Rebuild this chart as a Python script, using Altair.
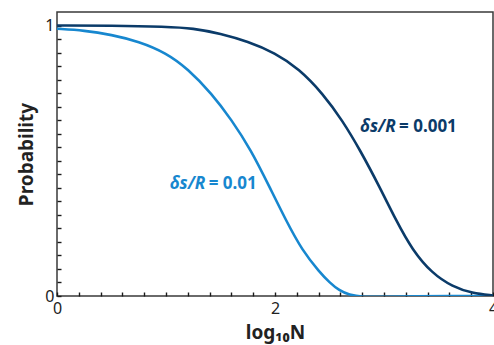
import altair as alt
import pandas as pd

# --- data ---
series_names = ["δs/R = 0.01", "δs/R = 0.001"]
series_colors = ["#1787cf", "#0b3b69"]

x_01 = [0.0, 0.25, 0.5, 0.75, 1.0, 1.2, 1.42, 1.6, 1.78, 1.95, 2.10, 2.25,
        2.41, 2.50, 2.59, 2.68, 2.80, 3.0, 3.3, 3.6, 4.0]
y_01 = [0.988, 0.982, 0.966, 0.941, 0.899, 0.840, 0.748, 0.652, 0.540, 0.403,
        0.280, 0.168, 0.088, 0.050, 0.020, 0.004, -0.004, -0.003, -0.001, 0.0, 0.0]

x_001 = [0.0, 0.5, 1.0, 1.25, 1.5, 1.75, 2.0, 2.22, 2.44, 2.62, 2.78, 2.96,
         3.11, 3.26, 3.44, 3.63, 3.81, 4.0]
y_001 = [1.0, 1.0, 0.996, 0.99, 0.97, 0.941, 0.899, 0.840, 0.748,
         0.648, 0.540, 0.403, 0.280, 0.170, 0.084, 0.034, 0.010, 0.002]

label_x = [1.034, 2.78]
label_y = [0.413, 0.624]
label_lead = ["δs/R", "δs/R"]
label_tail = ["= 0.01", "= 0.001"]

x_ticks = [round(i * 0.2, 1) for i in range(21)]
y_ticks = [round(i * 0.05, 2) for i in range(21)]

# --- tables ---
df = pd.concat([
    pd.DataFrame({"x": x_01, "y": y_01, "series": series_names[0]}),
    pd.DataFrame({"x": x_001, "y": y_001, "series": series_names[1]}),
])
lab = pd.DataFrame({"x": label_x, "y": label_y, "lead": label_lead,
                    "tail": label_tail, "series": series_names})

color = alt.Color("series:N", scale=alt.Scale(domain=series_names, range=series_colors),
                  legend=None)

x_enc = alt.X("x:Q", scale=alt.Scale(domain=[0, 4], nice=False, zero=False),
              axis=alt.Axis(values=x_ticks, tickCount=40, title="log₁₀N", format="~g",
                            labelExpr="datum.value % 2 == 0 ? datum.label : ''",
                            labelFlush=False, labelOverlap=False,
                            tickSize={"expr": "-4"}, labelPadding=8,
                            titlePadding=7))
y_enc = alt.Y("y:Q", scale=alt.Scale(domain=[0, 1.05], nice=False, zero=False),
              axis=alt.Axis(values=y_ticks, tickCount=40, title="Probability", format="~g",
                            labelExpr="datum.value == 0 || datum.value == 1 ? datum.label : ''",
                            labelFlush=False, labelOverlap=False,
                            tickSize={"expr": "-4"}, labelPadding=7,
                            titlePadding=8))

lines = alt.Chart(df).mark_line(strokeWidth=2.6, interpolate="basis", clip=True).encode(
    x=x_enc, y=y_enc, color=color, detail="series:N")

lead = alt.Chart(lab).mark_text(align="left", baseline="middle", fontSize=17,
                                fontWeight="bold", fontStyle="italic").encode(
    x="x:Q", y="y:Q", text="lead:N", color=color)
tail = alt.Chart(lab).mark_text(align="left", baseline="middle", fontSize=17,
                                fontWeight="bold", dx=39).encode(
    x="x:Q", y="y:Q", text="tail:N", color=color)

chart = alt.layer(lines, lead, tail).properties(
    width=436, height=284,
    autosize=alt.AutoSizeParams(type="none"),
    padding={"left": 57, "top": 12, "right": 1, "bottom": 49},
).configure(font="Noto Sans").configure_view(
    stroke="#3a3a3a", strokeWidth=1.5
).configure_axis(
    grid=False, domain=False, tickColor="#1a1a1a", tickWidth=1.4,
    labelFont="Noto Sans", labelFontSize=16, labelColor="#222",
    titleFont="Noto Sans", titleFontSize=19, titleFontWeight="bold", titleColor="#222",
)

chart.save("out.html", embed_options={"renderer": "svg", "actions": False})
